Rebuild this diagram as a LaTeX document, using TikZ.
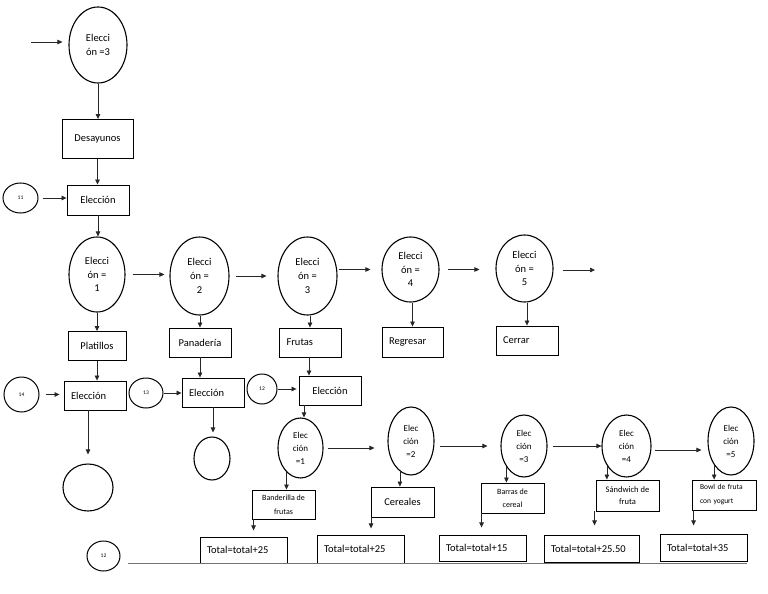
\documentclass[tikz,border=0pt]{standalone}
\usepackage{fontspec}
\setmainfont{Carlito}
\usetikzlibrary{shapes.geometric,arrows.meta,calc}
\begin{document}
\begin{tikzpicture}[x=1pt,y=-1pt,
  every node/.style={font=\fontsize{10.5}{13.7}\selectfont},
  ell/.style={ellipse,draw,line width=1.1pt,inner sep=0pt,align=center},
  box/.style={rectangle,draw,line width=0.9pt,inner sep=0pt,align=center},
  lbox/.style={rectangle,draw,line width=0.9pt,inner ysep=0pt,inner xsep=7pt,text width=#1,align=left},
  num/.style={ellipse,draw,line width=1pt,inner sep=0pt,font=\fontsize{5.5}{6}\selectfont},
  arr/.style={draw=black!85,line width=0.7pt,-{Triangle[length=5pt,width=4.5pt]}},
  fell/.style={ell,font=\fontsize{9}{13}\selectfont},
]
\fill[white] (0,0) rectangle (768,594);
\useasboundingbox (0,0) rectangle (768,594);

% top part
\node[ell,minimum width=58pt,minimum height=76pt] (e0) at (98,45) {Elecci\\ón =3};
\coordinate (s0) at (31,42);
\node[box,minimum width=71pt,minimum height=39pt] (des) at (97.5,139) {Desayunos};
\node[box,minimum width=62pt,minimum height=30pt] (el0) at (98,200) {Elección};
\node[num,minimum width=35pt,minimum height=30pt] (c11) at (20.5,198) {11};

% menu row
\node[ell,minimum width=56pt,minimum height=75pt] (e1) at (97,274.5) {Elecci\\ón =\\1};
\node[ell,minimum width=59pt,minimum height=78pt] (e2) at (199.5,276) {Elecci\\ón =\\2};
\node[ell,minimum width=59pt,minimum height=78pt] (e3) at (307.5,276) {Elecci\\ón =\\3};
\node[ell,minimum width=57pt,minimum height=65pt] (e4) at (410.5,269.5) {Elecci\\ón =\\4};
\node[ell,minimum width=57pt,minimum height=67pt] (e5) at (524.5,268.5) {Elecci\\ón =\\5};
\coordinate (out) at (595,270);

\node[box,minimum width=58pt,minimum height=29pt] (plat) at (97,346) {Platillos};
\node[box,minimum width=62pt,minimum height=29pt] (pan) at (200,342.5) {Panadería};
\node[lbox=47pt,minimum height=29pt,inner xsep=7.5pt] (fru) at (310,342.5) {Frutas};
\node[lbox=47pt,minimum height=30pt] (reg) at (412.5,342) {Regresar};
\node[lbox=48pt,minimum height=29pt] (cer) at (527,340.5) {Cerrar};

\node[lbox=48pt,minimum height=29pt] (el1) at (95,395.5) {Elección};
\node[lbox=48pt,minimum height=29pt] (el2) at (213,392.5) {Elección};
\node[box,minimum width=62pt,minimum height=29pt] (el3) at (330,390.5) {Elección};
\node[num,minimum width=35pt,minimum height=35pt] (c14) at (21.5,394.5) {14};
\node[num,minimum width=34pt,minimum height=30pt] (c13) at (146,393) {13};
\node[num,minimum width=30pt,minimum height=30pt] (c12a) at (262,389) {12};

\node[ell,minimum width=50pt,minimum height=47pt] (eo1) at (88,487.5) {};
\node[ell,minimum width=36pt,minimum height=43pt] (eo2) at (212,458.5) {};

% fruit row
\node[fell,minimum width=45pt,minimum height=60pt] (f1) at (300.5,448) {Elec\\ción\\=1};
\node[fell,minimum width=46pt,minimum height=68pt] (f2) at (411,441) {Elec\\ción\\=2};
\node[fell,minimum width=46pt,minimum height=62pt] (f3) at (524,446) {Elec\\ción\\=3};
\node[fell,minimum width=49pt,minimum height=62pt] (f4) at (626.5,446) {Elec\\ción\\=4};
\node[fell,minimum width=46pt,minimum height=68pt] (f5) at (731,441) {Elec\\ción\\=5};

\node[box,minimum width=63pt,minimum height=29pt,font=\fontsize{8}{14}\selectfont] (ban) at (283.5,504.5) {Banderilla de\\frutas};
\node[box,minimum width=63pt,minimum height=30pt] (cere) at (402.5,502) {Cereales};
\node[box,minimum width=63pt,minimum height=30pt,font=\fontsize{8}{13}\selectfont] (bar) at (512.5,498) {Barras de\\cereal};
\node[box,minimum width=63pt,minimum height=31pt,font=\fontsize{8.5}{12}\selectfont] (sand) at (627.5,495.5) {Sándwich de\\fruta};
\node[lbox=48pt,minimum height=30pt,inner xsep=8pt,font=\fontsize{7.5}{14}\selectfont] (bowl) at (724,495) {Bowl de fruta\\con yogurt};

\node[lbox=73pt,minimum height=26pt] (t1) at (243.5,550) {Total=total+25};
\node[lbox=73pt,minimum height=28pt] (t2) at (360.5,549) {Total=total+25};
\node[lbox=73pt,minimum height=26pt] (t3) at (482.5,548) {Total=total+15};
\node[lbox=81pt,minimum height=27pt] (t4) at (591.5,548.5) {Total=total+25.50};
\node[lbox=73pt,minimum height=27pt] (t5) at (703.5,547.5) {Total=total+35};
\node[num,minimum width=33pt,minimum height=30pt] (c12b) at (103.5,556) {12};

% connectors
\draw[arr] (s0) -- ([xshift=-6pt]e0.west |- s0);
\draw[arr] (e0.south) -- (e0.south |- des.north);
\draw[arr] (des.south) -- (des.south |- el0.north);
\draw[arr,shorten <=4pt] (c11.east) -- (c11.east -| el0.west);
\draw[arr] (el0.south) -- (el0.south |- e1.north);

\draw[arr,shorten <=7pt,shorten >=5pt] (e1.east) -- (e1.east -| e2.west);
\draw[arr,shorten <=6pt,shorten >=11pt] (e2.east) -- (e2.east -| e3.west);
\draw[arr,shorten <=1pt,shorten >=11pt] (e4.west -| e3.east) -- (e4.west);
\draw[arr,shorten <=8pt,shorten >=16pt] (e4.east) -- (e4.east -| e5.west);
\draw[arr,shorten <=9pt] (out -| e5.east) -- (out);

\draw[arr] (e1.south) -- (e1.south |- plat.north);
\draw[arr] (e2.south -| pan.north) -- (pan.north);
\draw[arr] (fru.north |- e3.south) -- (fru.north);
\draw[arr] (reg.north |- e4.south) -- (reg.north);
\draw[arr] (cer.north |- e5.south) -- (cer.north);

\draw[arr] (plat.south) -- (plat.south |- el1.north);
\draw[arr] (pan.south) -- (pan.south |- el2.north);
\draw[arr] ($(fru.south)+(-1,0)$) -- ($(fru.south |- el3.north)+(-1,0)$);
\draw[arr,shorten <=6pt,shorten >=4pt] (c14.east) -- (c14.east -| el1.west);
\draw[arr] (c13.east) -- (c13.east -| el2.west);
\draw[arr,shorten >=2pt] (c12a.east) -- (c12a.east -| el3.west);

\draw[arr,shorten >=9pt] (eo1.north |- el1.south) -- (eo1.north);
\draw[arr,shorten >=4pt] ($(eo2.north |- el2.south)+(1,0)$) -- ($(eo2.north)+(1,0)$);
\draw[arr] ($(el3.south)+(-26,0)$) -- ($(el3.south |- f1.north)+(-26,0)$);

\draw[arr,shorten <=4pt,shorten >=13pt] (f1.east) -- (f1.east -| f2.west);
\draw[arr,shorten <=5pt,shorten >=13pt] (f3.west -| f2.east) -- (f3.west);
\draw[arr,shorten <=5pt] (f3.east) -- (f4.west);
\draw[arr,shorten <=3pt,shorten >=6pt] ($(f4.east)+(0,4)$) -- ($(f4.east -| f5.west)+(0,4)$);

\draw[arr] (f1.-120) -- (f1.-120 |- ban.north);
\draw[arr] (f2.-110) -- (f2.-110 |- cere.north);
\draw[arr] (f3.-130) -- (f3.-130 |- bar.north);
\draw[arr] (f4.-135) -- (f4.-135 |- sand.north);
\draw[arr] (f5.-125) -- (f5.-125 |- bowl.north);

\coordinate (b1) at ($(ban.south west)+(2,11)$);
\coordinate (b2) at ($(cere.south west)+(0.5,11)$);
\coordinate (b3) at ($(bar.south west)+(1,14)$);
\coordinate (b4) at ($(sand.south west)+(-1,14)$);
\coordinate (b5) at ($(bowl.south west)+(2,15)$);
\draw[arr] (ban.south west -| b1) -- (b1);
\draw[arr] (cere.south west -| b2) -- (b2);
\draw[arr] (bar.south west -| b3) -- (b3);
\draw[arr] (sand.south west -| b4) -- (b4);
\draw[arr] (bowl.south west -| b5) -- (b5);

\draw[black!55,line width=0.9pt] ($(c12b.east |- t1.south)+(7,0)$) -- (t1.south -| t5.east);
\end{tikzpicture}
\end{document}
